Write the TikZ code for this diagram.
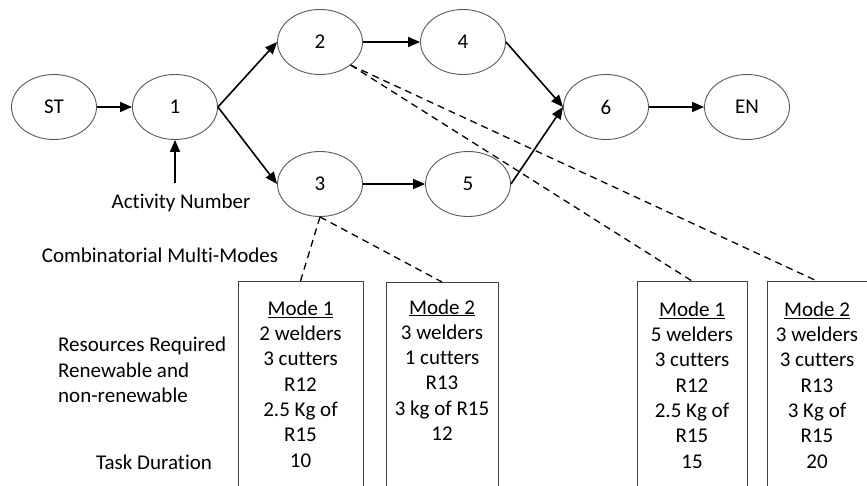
\documentclass[tikz,border=0pt]{standalone}
\usepackage{fontspec}
\setmainfont[Ligatures=CommonOff]{Carlito}
\usetikzlibrary{shapes.geometric,arrows.meta}
\begin{document}
\begin{tikzpicture}[x=1pt,y=-1pt,
  font=\fontsize{21}{25.3}\selectfont,
  act/.style={ellipse,draw=black!65,line width=0.9pt,minimum width=85pt,minimum height=65pt,inner sep=0pt},
  arr/.style={line width=1.6pt,-{Triangle[length=12pt,width=10pt]}},
  dsh/.style={line width=1.3pt,dash pattern=on 7pt off 5pt},
  modebox/.style={draw=black!75,line width=1pt,anchor=north,minimum height=260pt,inner sep=0pt},
  txt/.style={align=center,inner sep=0pt}]
\useasboundingbox (0,0) rectangle (867,485);
\clip (0,0) rectangle (867,485);
% activity nodes
\node[act] (st) at (54,107) {ST};
\node[act] (n1) at (175,107) {1};
\node[act] (n2) at (320,42) {2};
\node[act] (n3) at (320,184) {3};
\node[act] (n4) at (463,42) {4};
\node[act] (n5) at (468,184) {5};
\node[act] (n6) at (606,107) {6};
\node[act] (en) at (747,107) {EN};
% arrows
\draw[arr] (st) -- (n1);
\draw[arr] (n1.east) -- (n2.west);
\draw[arr] (n1.east) -- (n3.west);
\draw[arr] (n2) -- (n4);
\draw[arr] (n3) -- (n5);
\draw[arr] (n4.east) -- (n6.west);
\draw[arr] (n5.east) -- (n6.west);
\draw[arr] (n6) -- (en);
% labels
\node[txt] (actnum) at (181,203) {Activity Number};
\coordinate (an) at (175,183);
\draw[arr] (an) -- (n1.south);
\node[txt] (comb) at (160,255) {Combinatorial Multi-Modes};
\node[txt,anchor=west,align=left] (res) at (58,370) {Resources Required\\Renewable and\\non-renewable};
\node[txt] (dur) at (154,462) {Task Duration};
% mode boxes
\node[modebox,minimum width=125pt] (b1) at (300.5,281) {};
\node[modebox,minimum width=112pt] (b2) at (442,282) {};
\node[modebox,minimum width=110pt] (b3) at (692,281) {};
\node[modebox,minimum width=100pt] (b4) at (817,281) {};
\node[txt] (t1) at (300.5,384) {\underline{Mode 1}\\2 welders\\3 cutters\\R12\\2.5 Kg of\\R15\\10};
\node[txt] (t2) at (442,370) {\underline{Mode 2}\\3 welders\\1 cutters\\R13\\3 kg of R15\\12};
\node[txt] (t3) at (692,385) {\underline{Mode 1}\\5 welders\\3 cutters\\R12\\2.5 Kg of\\R15\\15};
\node[txt] (t4) at (817,385) {\underline{Mode 2}\\3 welders\\3 cutters\\R13\\3 Kg of\\R15\\20};
% dashed links
\draw[dsh] (n3.south) -- (b1.north);
\draw[dsh] (n3.south) -- (b2.north);
\draw[dsh] (n2.-37) -- (b3.north);
\draw[dsh] (n2.-37) -- (b4.north);
\end{tikzpicture}
\end{document}
